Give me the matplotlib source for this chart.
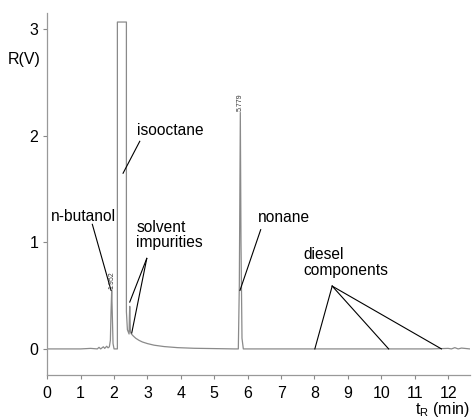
import numpy as np
import matplotlib
matplotlib.use("Agg")
import matplotlib.pyplot as plt

plt.rcParams['font.family'] = ['Liberation Sans', 'DejaVu Sans']
plt.rcParams['mathtext.fontset'] = 'custom'
plt.rcParams['mathtext.rm'] = 'Liberation Sans'

# chromatogram trace (min, V)
t_min = [0.0, 0.5, 1.0, 1.3, 1.5, 1.55, 1.6, 1.68, 1.72, 1.78, 1.82, 1.86, 1.89,
         1.91, 1.93, 1.95, 1.97, 2.00, 2.05, 2.10, 2.10, 2.37, 2.37, 2.40, 2.45,
         2.46, 2.47, 2.49, 2.52, 2.58, 2.65, 2.75, 2.85, 3.0, 3.2, 3.5, 3.9, 4.4,
         5.0, 5.6, 5.72, 5.75, 5.78, 5.80, 5.83, 5.87, 6.5, 7.5, 8.5, 9.5, 10.5,
         11.5, 12.0, 12.1, 12.2, 12.3, 12.4, 12.65]
signal = [0.0, 0.0, 0.0, 0.005, 0.0, 0.015, 0.0, 0.02, 0.005, 0.025, 0.01, 0.02, 0.08,
          0.35, 0.55, 0.30, 0.05, 0.0, 0.0, 0.0, 3.07, 3.07, 0.35, 0.18, 0.14,
          0.30, 0.40, 0.16, 0.14, 0.12, 0.10, 0.08, 0.065, 0.05, 0.035, 0.022, 0.012, 0.006,
          0.003, 0.0, 0.0, 0.6, 2.22, 1.0, 0.1, 0.0, 0.0, 0.0, 0.0, 0.0, 0.0,
          0.0, 0.005, 0.0, 0.012, 0.0, 0.008, 0.0]

# peak retention time labels
peak_t = [1.93, 5.78]
peak_v = [0.56, 2.23]
peak_txt = ["1.952", "5.779"]

# annotations: text, text position, line start, line ends
notes = [
    ("n-butanol", (0.10, 1.24), (1.35, 1.17), [(1.91, 0.55)]),
    ("isooctane", (2.68, 2.05), (2.77, 1.95), [(2.27, 1.65)]),
    ("solvent\nimpurities", (2.66, 1.07), (2.98, 0.85), [(2.47, 0.44), (2.53, 0.15)]),
    ("nonane", (6.30, 1.23), (6.39, 1.12), [(5.77, 0.55)]),
    ("diesel\ncomponents", (7.68, 0.81), (8.53, 0.59), [(8.01, 0.0), (10.22, 0.0), (11.80, 0.0)]),
]

fig = plt.figure(figsize=(4.77, 4.19), dpi=100)
ax = fig.add_axes([0.099, 0.105, 0.886, 0.864])

ax.plot(t_min, signal, color='#8a8a8a', lw=0.9)

for t, v, s in zip(peak_t, peak_v, peak_txt):
    ax.text(t, v, s, rotation=90, fontsize=5, ha='center', va='bottom', color='#333333')

for txt, pos, start, ends in notes:
    ax.text(pos[0], pos[1], txt, fontsize=11.2, ha='left', va='center', linespacing=1.05)
    for end in ends:
        ax.plot([start[0], end[0]], [start[1], end[1]], color='black', lw=0.8)

ax.set_xlim(0, 12.65)
ax.set_ylim(-0.245, 3.155)
ax.set_xticks(range(0, 13))
ax.set_yticks([0, 1, 2, 3])
ax.tick_params(labelsize=11.5, length=3, color='#888888', direction='out')
ax.tick_params(axis='x', pad=5)
for side in ['top', 'right']:
    ax.spines[side].set_visible(False)
for side in ['left', 'bottom']:
    ax.spines[side].set_color('#999999')
    ax.spines[side].set_linewidth(0.9)

fig.text(0.017, 0.857, "R(V)", fontsize=11.5, ha='left', va='center')
fig.text(0.985, 0.022, r"t$_{\mathrm{R}}$ (min)", fontsize=11.5, ha='right', va='center')

fig.savefig("out.png", dpi=100)
